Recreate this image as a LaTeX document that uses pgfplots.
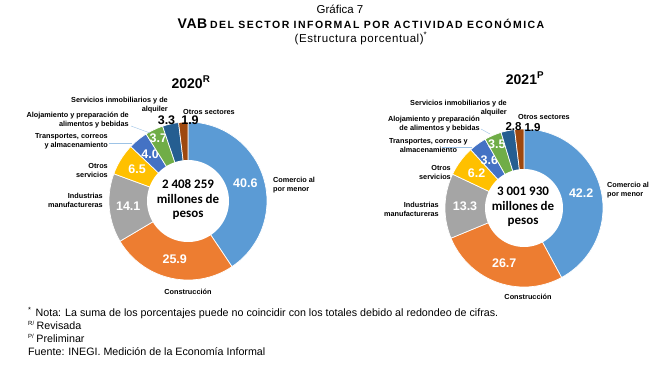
\documentclass[border=0pt]{standalone}
\usepackage{pgfplots}
\usepackage{pgfplotstable}
\pgfplotsset{compat=1.18}
\usepackage{fontspec}
\setmainfont{Liberation Sans}
\newfontfamily\calib{Carlito}

\definecolor{c1}{HTML}{5B9BD5}
\definecolor{c2}{HTML}{ED7D31}
\definecolor{c3}{HTML}{A5A5A5}
\definecolor{c4}{HTML}{FFC000}
\definecolor{c5}{HTML}{4472C4}
\definecolor{c6}{HTML}{70AD47}
\definecolor{c7}{HTML}{255E91}
\definecolor{c8}{HTML}{9E480E}
\definecolor{leader}{HTML}{9DC3E6}

% value, colour, label inside (1) or outside (0), radial offset of label
\pgfplotstableread{
val col show off
40.6 c1 1 0
25.9 c2 1 0
14.1 c3 1 0
6.5 c4 1 0
4.0 c5 1 0
3.7 c6 1 9
3.3 c7 0 0
1.9 c8 0 0
}\dataA
\pgfplotstableread{
val col show off
42.2 c1 1 0
26.7 c2 1 0
13.3 c3 1 0
6.2 c4 1 0
3.6 c5 1 0
3.5 c6 1 10
2.8 c7 0 0
1.9 c8 0 0
}\dataB

\tikzset{
  cat/.style={font=\bfseries\fontsize{7.3}{9}\selectfont, inner sep=0pt, align=right},
  val/.style={text=white, font=\bfseries\fontsize{12.5}{12.5}\selectfont, inner sep=0pt},
  oval/.style={text=black, font=\bfseries\fontsize{12.5}{12.5}\selectfont, inner sep=0pt},
  ctr/.style={font=\calib\bfseries\fontsize{13}{14.5}\selectfont, inner sep=0pt, align=center},
  foot/.style={font=\fontsize{10.7}{12}\selectfont, inner sep=0pt, anchor=base west},
}

% #1 table, #2 cx, #3 cy, #4 outer R, #5 inner r
\newcommand\donut[5]{%
  \pgfplotstablegetrowsof{#1}%
  \pgfmathtruncatemacro\nr{\pgfplotsretval-1}%
  \gdef\tot{0}%
  \foreach \i in {0,...,\nr}{%
    \pgfplotstablegetelem{\i}{val}\of#1%
    \pgfmathsetmacro\tmp{\tot+\pgfplotsretval}%
    \xdef\tot{\tmp}%
  }%
  \gdef\cumang{-90}%
  \foreach \i in {0,...,\nr}{%
    \pgfplotstablegetelem{\i}{val}\of#1\let\v\pgfplotsretval
    \pgfplotstablegetelem{\i}{col}\of#1\let\c\pgfplotsretval
    \pgfplotstablegetelem{\i}{show}\of#1\let\s\pgfplotsretval
    \pgfplotstablegetelem{\i}{off}\of#1\let\o\pgfplotsretval
    \pgfmathsetmacro\wspan{360*\v/\tot}%
    \pgfmathsetmacro\aend{\cumang+\wspan}%
    \pgfmathsetmacro\amid{\cumang+\wspan/2}%
    \pgfmathsetmacro\lx{#2+((#4+#5)/2+\o)*cos(\amid)}%
    \pgfmathsetmacro\ly{#3+((#4+#5)/2+\o)*sin(\amid)}%
    \edef\temp{\noexpand\addplot[fill=\c, draw=white, line width=0.7pt, domain=\cumang:\aend, samples=50] ({#2+#4*cos(x)},{#3+#4*sin(x)}) -- (axis cs:#2,#3) -- cycle;}%
    \temp
    \ifnum\s=1 \edef\temp{\noexpand\node[val] at (axis cs:\lx,\ly) {\v};}\temp\fi
    \xdef\cumang{\aend}%
  }%
  \addplot[fill=white, draw=none, domain=0:360, samples=100] ({#2+#5*cos(x)},{#3+#5*sin(x)}) -- cycle;
}

\begin{document}
\begin{tikzpicture}
\begin{axis}[width=672pt, height=367pt, scale only axis,
  xmin=0, xmax=672, ymin=0, ymax=367, y dir=reverse,
  hide axis, clip=false]

% invisible frame
\addplot[draw=none, forget plot] coordinates {(0,0) (672,367)};

% titles
\node[anchor=base, inner sep=0pt, font=\fontsize{11.5}{12}\selectfont] at (axis cs:340,13) {Gráfica 7};
\node[anchor=base, inner sep=0pt] at (axis cs:361,28) {{\bfseries\fontsize{14}{14}\selectfont\addfontfeature{LetterSpace=4}VAB} {\bfseries\fontsize{10.5}{13}\selectfont\addfontfeature{LetterSpace=14}DEL SECTOR INFORMAL POR ACTIVIDAD ECONÓMICA}};
\node[anchor=base, inner sep=0pt, font=\fontsize{11.5}{12}\selectfont] at (axis cs:361,42) {\addfontfeature{LetterSpace=5}(Estructura porcentual)\textsuperscript{*}};

% year labels
\node[anchor=base, inner sep=0pt, font=\bfseries\fontsize{14}{14}\selectfont] at (axis cs:191,88) {2020\textsuperscript{R}};
\node[anchor=base, inner sep=0pt, font=\bfseries\fontsize{14}{14}\selectfont] at (axis cs:525,84) {2021\textsuperscript{P}};

% donuts
\donut{\dataA}{188}{201}{79}{41}
\donut{\dataB}{524}{208}{79}{39}

% outside values
\node[oval] at (axis cs:166.5,120) {3.3};
\node[oval] at (axis cs:190,120) {1.9};
\node[oval, font=\bfseries\fontsize{11.5}{11.5}\selectfont] at (axis cs:513.5,127) {2.8};
\node[oval, font=\bfseries\fontsize{11.5}{11.5}\selectfont] at (axis cs:532.5,128) {1.9};

% centre text
\node[ctr] at (axis cs:188,200) {2 408 259\\millones de\\pesos};
\node[ctr] at (axis cs:523,207) {3 001 930\\millones de\\pesos};

% category labels 2020
\node[cat, anchor=east] at (axis cs:168,105) {Servicios inmobiliarios y de\\alquiler};
\node[cat, anchor=west] at (axis cs:183,112) {Otros sectores};
\node[cat, anchor=east] at (axis cs:129,120.5) {Alojamiento y preparación de\\alimentos y bebidas};
\node[cat, anchor=east] at (axis cs:108,141.5) {Transportes, correos\\y almacenamiento};
\node[cat, anchor=east] at (axis cs:108,170) {Otros\\servicios};
\node[cat, anchor=east] at (axis cs:103,200) {Industrias\\manufactureras};
\node[cat, anchor=west, align=left] at (axis cs:273,185) {Comercio al\\por menor};
\node[cat] at (axis cs:188,292) {Construcción};
\draw[leader, line width=0.4pt] (axis cs:131,126) -- (axis cs:150,133);
\draw[leader, line width=0.4pt] (axis cs:109,143) -- (axis cs:132,143);

% category labels 2021
\node[cat, anchor=east] at (axis cs:507,108) {Servicios inmobiliarios y de\\alquiler};
\node[cat, anchor=west] at (axis cs:518,117) {Otros sectores};
\node[cat, anchor=east] at (axis cs:480,124.5) {Alojamiento y preparación\\de alimentos y bebidas};
\node[cat, anchor=east, align=center] at (axis cs:468,146) {Transportes, correos y\\almacenamiento};
\node[cat, anchor=east] at (axis cs:451,172.5) {Otros\\servicios};
\node[cat, anchor=east] at (axis cs:439,209.5) {Industrias\\manufactureras};
\node[cat, anchor=west, align=left] at (axis cs:607,190) {Comercio al\\por menor};
\node[cat] at (axis cs:528,297) {Construcción};
\draw[leader, line width=0.4pt] (axis cs:481,129) -- (axis cs:490,134);
\draw[leader, line width=0.4pt] (axis cs:442,147) -- (axis cs:472,147);

% footer
\node[foot] at (axis cs:28,316) {\textsuperscript{*}\hspace{4pt}Nota: La suma de los porcentajes puede no coincidir con los totales debido al redondeo de cifras.};
\node[foot] at (axis cs:28,329) {\textsuperscript{\fontsize{6}{6}\selectfont R/}\hspace{2pt}Revisada};
\node[foot] at (axis cs:28,342) {\textsuperscript{\fontsize{6}{6}\selectfont P/}\hspace{2pt}Preliminar};
\node[foot] at (axis cs:28,355) {Fuente: INEGI. Medición de la Economía Informal};
\end{axis}
\end{tikzpicture}
\end{document}
